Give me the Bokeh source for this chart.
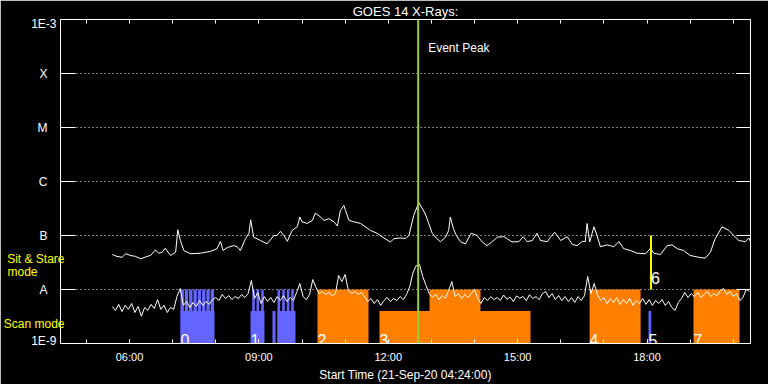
import numpy as np
from bokeh.plotting import figure
from bokeh.models import FixedTicker, LinearAxis, LogAxis, Span, Label
from bokeh.core.properties import value
from bokeh.embed import file_html
from bokeh.resources import INLINE

# ---------------- data ----------------
# time axis: hours of 21-Sep-2020 (plot starts 04:24, 16 h window)
x_start, x_end = 4.4, 20.4
hour_ticks = [6, 9, 12, 15, 18]
hour_labels = ["06:00", "09:00", "12:00", "15:00", "18:00"]
hour_minor = [5, 6, 7, 8, 9, 10, 11, 12, 13, 14, 15, 16, 17, 18, 19, 20]

# flux levels (W/m^2) and their labels
class_levels = [1e-8, 1e-7, 1e-6, 1e-5, 1e-4]
class_names = ["A", "B", "C", "M", "X"]
# range-end captions, set just inside the axis ends
end_levels = [1.1e-9, 8.2e-4]
end_names = ["1E-9", "1E-3"]

# observing-mode captions on the flux axis
mode_levels = [3.75e-8, 2.3e-9]
mode_names = ["Sit & Stare", "Scan mode"]
mode_sub_level = [2.15e-8]
mode_sub_name = ["mode"]

# GOES 14 long channel (1-8 A), flux in units of 1e-8 W/m^2
long_t = [5.60, 5.71, 5.83, 5.91, 6.02, 6.14, 6.26, 6.41, 6.49, 6.60,
          6.68, 6.76, 6.83, 6.95, 7.07, 7.12, 7.18, 7.26, 7.41, 7.65,
          7.88, 8.03, 8.11, 8.17, 8.27, 8.42, 8.50, 8.57, 8.69, 8.77,
          8.81, 8.88, 9.04, 9.19, 9.35, 9.42, 9.50, 9.58, 9.66, 9.77,
          9.89, 9.95, 10.00, 10.12, 10.24, 10.31, 10.43, 10.51, 10.62, 10.74,
          10.82, 10.89, 10.97, 11.01, 11.09, 11.20, 11.36, 11.59, 11.74, 11.90,
          12.05, 12.13, 12.28, 12.40, 12.48, 12.59, 12.71, 12.86, 13.02, 13.13,
          13.21, 13.33, 13.40, 13.44, 13.51, 13.58, 13.68, 13.79, 13.92, 14.06,
          14.18, 14.29, 14.41, 14.53, 14.68, 14.76, 14.87, 15.03, 15.13, 15.22,
          15.34, 15.45, 15.53, 15.69, 15.76, 15.86, 16.00, 16.15, 16.27, 16.38,
          16.50, 16.57, 16.61, 16.67, 16.77, 16.84, 16.92, 17.08, 17.23, 17.35,
          17.46, 17.62, 17.77, 17.97, 18.08, 18.16, 18.31, 18.47, 18.58, 18.70,
          18.85, 19.00, 19.20, 19.35, 19.47, 19.58, 19.74, 19.90, 20.01, 20.13,
          20.28, 20.36, 20.40]
long_flux_e8 = [4.45, 4.1, 3.95, 4.6, 4.27, 4.1, 3.7, 4.1, 4.27, 5.4,
                4.7, 4.9, 5.8, 4.27, 4.9, 12.8, 8.07, 5.27, 4.6, 4.7,
                5.1, 5.7, 7.8, 5.27, 6.0, 6.5, 6.2, 5.27, 8.7, 11.0,
                19.5, 9.3, 8.07, 7.0, 10.0, 10.0, 12.0, 10.0, 7.8, 12.4,
                14.5, 22.0, 18.0, 16.7, 19.0, 26.0, 22.0, 19.0, 20.5, 18.0,
                15.0, 29.0, 36.0, 29.0, 19.0, 18.0, 16.7, 12.4, 11.0, 9.0,
                7.6, 8.7, 9.0, 8.8, 10.0, 23.4, 41.0, 25.0, 11.0, 8.7,
                7.7, 9.3, 12.4, 22.0, 13.5, 10.0, 7.6, 7.0, 11.0, 10.0,
                7.6, 6.5, 7.7, 9.3, 9.5, 8.7, 7.6, 7.7, 9.5, 7.7,
                8.07, 11.0, 8.07, 7.7, 9.3, 11.5, 8.07, 9.5, 6.8, 6.5,
                7.8, 7.7, 16.7, 7.6, 14.5, 10.0, 6.2, 6.7, 6.2, 7.7,
                5.7, 5.27, 4.7, 4.6, 5.8, 4.7, 4.45, 6.5, 6.7, 5.7,
                5.27, 4.27, 3.95, 3.8, 4.9, 8.7, 14.5, 12.4, 10.0, 8.07,
                7.7, 9.0, 7.7]

# GOES 14 short channel (0.5-4 A), 4.5 min cadence from 05:36, units of 1e-9 W/m^2
short_t0 = 5.6
short_dt = 0.075
short_flux_e9 = [4.85, 4.1, 5.3, 3.9, 5.1, 4.3, 5.5, 3.75, 4.85, 3.2,
                 4.65, 4.1, 5.3, 4.45, 6.5, 4.3, 5.1, 3.75, 4.65, 4.3,
                 7.4, 10.4, 5.1, 6.0, 4.65, 5.75, 4.85, 6.26, 5.06, 6.0,
                 5.3, 6.5, 7.1, 6.26, 8.1, 6.8, 7.7, 6.5, 7.4, 6.8,
                 8.1, 7.1, 8.4, 14.7, 6.8, 8.8, 5.5, 7.4, 6.0, 7.1,
                 5.75, 7.4, 6.26, 7.7, 6.0, 7.1, 6.26, 8.8, 12.9, 7.4,
                 6.5, 8.1, 15.3, 10.9, 8.4, 9.2, 8.1, 8.8, 7.7, 8.4,
                 18.2, 14.0, 19.0, 9.6, 8.4, 9.2, 8.1, 8.8, 7.4, 6.0,
                 6.8, 5.5, 6.5, 5.06, 6.26, 7.1, 6.0, 6.8, 6.26, 7.4,
                 6.5, 8.1, 11.4, 20.6, 27.8, 29.0, 17.4, 11.9, 8.4, 7.1,
                 8.1, 6.5, 7.7, 6.8, 9.6, 14.0, 7.4, 8.4, 6.8, 8.1,
                 7.1, 8.4, 10.0, 6.8, 5.5, 7.1, 6.26, 7.4, 6.5, 7.1,
                 6.26, 7.9, 6.6, 7.2, 6.0, 7.6, 6.9, 7.4, 6.2, 8.0,
                 6.8, 7.4, 6.5, 8.4, 9.2, 7.1, 8.4, 6.5, 7.7, 6.26,
                 7.4, 6.0, 7.1, 5.75, 7.4, 6.26, 7.7, 17.4, 8.4, 12.9,
                 8.1, 6.26, 7.1, 5.5, 6.8, 5.75, 7.1, 5.3, 6.5, 5.5,
                 6.8, 5.06, 6.26, 5.5, 6.8, 5.3, 6.5, 5.06, 6.26, 5.5,
                 6.5, 5.06, 6.0, 4.65, 4.1, 5.75, 6.8, 8.8, 7.1, 8.4,
                 7.4, 8.8, 7.1, 8.1, 9.2, 7.4, 8.4, 7.7, 9.6, 10.4,
                 8.1, 9.2, 7.4, 8.4, 6.26, 7.1, 10.0, 9.2]

# observation bars (hours), top flux: 4e-9 = scan mode, 1e-8 = sit & stare
obs_start = [7.183, 8.806, 9.316, 9.432, 10.359, 11.797, 12.957, 16.669, 18.035, 19.078]
obs_end = [7.971, 9.130, 9.386, 9.849, 11.542, 15.299, 14.139, 17.852, 18.097, 20.145]
obs_top = [4e-9, 4e-9, 4e-9, 4e-9, 1e-8, 4e-9, 1e-8, 1e-8, 4e-9, 1e-8]
obs_kind = ["b", "b", "b", "b", "o", "o", "o", "o", "b", "o"]

# individual short rasters reaching the A level
raster_start = [7.183, 7.283, 7.383, 7.483, 7.583, 7.683, 7.783, 7.883,
                8.845, 8.945, 9.054, 9.432, 9.541, 9.648, 9.750]
raster_end = [7.260, 7.360, 7.460, 7.560, 7.660, 7.760, 7.860, 7.960,
              8.905, 9.005, 9.114, 9.492, 9.601, 9.708, 9.810]

# observation numbers
label_x = [7.183, 8.806, 10.359, 11.797, 16.669, 18.035, 18.093, 19.078]
label_y = [1e-9, 1e-9, 1e-9, 1e-9, 1e-9, 1e-9, 1.35e-8, 1e-9]
label_text = ["0", "1", "2", "3", "4", "5", "6", "7"]

# sit & stare marker 6 and event peak
sit_t = 18.093
sit_low, sit_high = 1e-8, 1e-7
event_peak = 12.694

# ---------------- plot ----------------
BLUE = "#6464FF"
ORANGE = "#FF8000"
YELLOW = "#FFFF00"
FONT_NAME = "Liberation Sans"
FONT = value(FONT_NAME)

long_flux = np.array(long_flux_e8) * 1e-8
short_flux = np.array(short_flux_e9) * 1e-9
short_t = short_t0 + short_dt * np.arange(len(short_flux))
obs_color = [BLUE if k == "b" else ORANGE for k in obs_kind]

p = figure(width=768, height=384, x_range=(x_start, x_end), y_range=(1e-9, 1e-3),
           y_axis_type="log", output_backend="svg", toolbar_location=None,
           min_border_left=60, min_border_right=18, min_border_top=19, min_border_bottom=41,
           background_fill_color="black", border_fill_color="black",
           outline_line_color="white")

# title
p.title.text = "GOES 14 X-Rays:"
p.title.align = "center"
p.title.vertical_align = "middle"
p.title.text_color = "white"
p.title.text_font = FONT_NAME
p.title.text_font_size = "13px"
p.title.text_font_style = "normal"
p.title.standoff = 0

# bars
p.quad(left=obs_start, right=obs_end, bottom=1e-9, top=obs_top,
       fill_color=obs_color, line_color=None)
p.quad(left=raster_start, right=raster_end, bottom=1e-9, top=1e-8,
       fill_color=BLUE, line_color=None)

# curves
p.line(long_t, long_flux, line_color="white", line_width=1)
p.line(short_t, short_flux, line_color="white", line_width=1)

# sit & stare marker
p.segment(x0=[sit_t], y0=[sit_low], x1=[sit_t], y1=[sit_high],
          line_color=YELLOW, line_width=2)

# numbers
p.text(x=label_x, y=label_y, text=label_text, text_color="white",
       text_font=FONT, text_font_size="16px", text_baseline="alphabetic",
       y_offset=-4, x_offset=0)

# event peak
p.add_layout(Span(location=event_peak, dimension="height",
                  line_color="#9ACD32", line_width=2))
p.add_layout(Label(x=event_peak, y=3.0e-4, x_offset=10, text="Event Peak",
                   text_color="white", text_font=FONT_NAME, text_font_size="12px",
                   text_baseline="alphabetic"))

# grid
p.xgrid.visible = False
p.ygrid.ticker = FixedTicker(ticks=class_levels)
p.ygrid.grid_line_color = "white"
p.ygrid.grid_line_dash = "1 3"
p.ygrid.grid_line_width = 1

# left axis (class letters, long ticks), nearest to the frame
ya = p.yaxis[0]
ya.ticker = FixedTicker(ticks=class_levels)
ya.major_label_overrides = dict(zip(class_levels, class_names))
ya.major_tick_in = 15
ya.major_tick_out = 0
ya.minor_tick_in = 0
ya.minor_tick_out = 0
ya.axis_line_color = "white"
ya.major_tick_line_color = "white"
ya.major_label_text_color = "white"
ya.major_label_text_font = FONT_NAME
ya.major_label_text_font_size = "12px"
ya.major_label_standoff = 13


def text_axis(levels, names, color, standoff):
    # label-only axis stacked further out; negative standoff pulls the labels back
    ax = LogAxis(ticker=FixedTicker(ticks=levels),
                 axis_line_color=None, major_tick_in=0, major_tick_out=0,
                 minor_tick_in=0, minor_tick_out=0,
                 major_label_text_color=color, major_label_text_font=FONT_NAME,
                 major_label_text_font_size="12px",
                 major_label_standoff=standoff)
    ax.major_label_overrides = dict(zip(levels, names))
    return ax


p.add_layout(text_axis(end_levels, end_names, "white", -22), "left")
p.add_layout(text_axis(mode_sub_level, mode_sub_name, YELLOW, -9), "left")
p.add_layout(text_axis(mode_levels, mode_names, YELLOW, -60), "left")

# right axis
ra = LogAxis(ticker=FixedTicker(ticks=class_levels), fixed_location=x_end,
             major_tick_in=14, major_tick_out=0,
             minor_tick_in=0, minor_tick_out=0, axis_line_color="white",
             major_tick_line_color="white", major_label_text_font_size="1px",
             major_label_text_alpha=0)
p.add_layout(ra, "right")

# bottom axis
xa = p.xaxis[0]
xa.ticker = FixedTicker(ticks=hour_ticks, minor_ticks=hour_minor)
xa.major_label_overrides = dict(zip(hour_ticks, hour_labels))
xa.major_tick_in = 4
xa.major_tick_out = 0
xa.minor_tick_in = 4
xa.minor_tick_out = 0
xa.axis_line_color = "white"
xa.major_tick_line_color = "white"
xa.minor_tick_line_color = "white"
xa.major_label_text_color = "white"
xa.major_label_text_font = FONT_NAME
xa.major_label_text_font_size = "11px"
xa.major_label_standoff = 7
xa.axis_label = "Start Time (21-Sep-20 04:24:00)"
xa.axis_label_text_color = "white"
xa.axis_label_text_font = FONT_NAME
xa.axis_label_text_font_size = "12px"
xa.axis_label_text_font_style = "normal"
xa.axis_label_standoff = 2

# top axis
ta = LinearAxis(ticker=FixedTicker(ticks=hour_minor), fixed_location=1e-3,
                major_tick_in=4, major_tick_out=0,
                minor_tick_in=0, minor_tick_out=0, axis_line_color="white",
                major_tick_line_color="white", major_label_text_font_size="1px",
                major_label_text_alpha=0)
p.add_layout(ta, "above")

open("out.html", "w").write(file_html(p, INLINE))
